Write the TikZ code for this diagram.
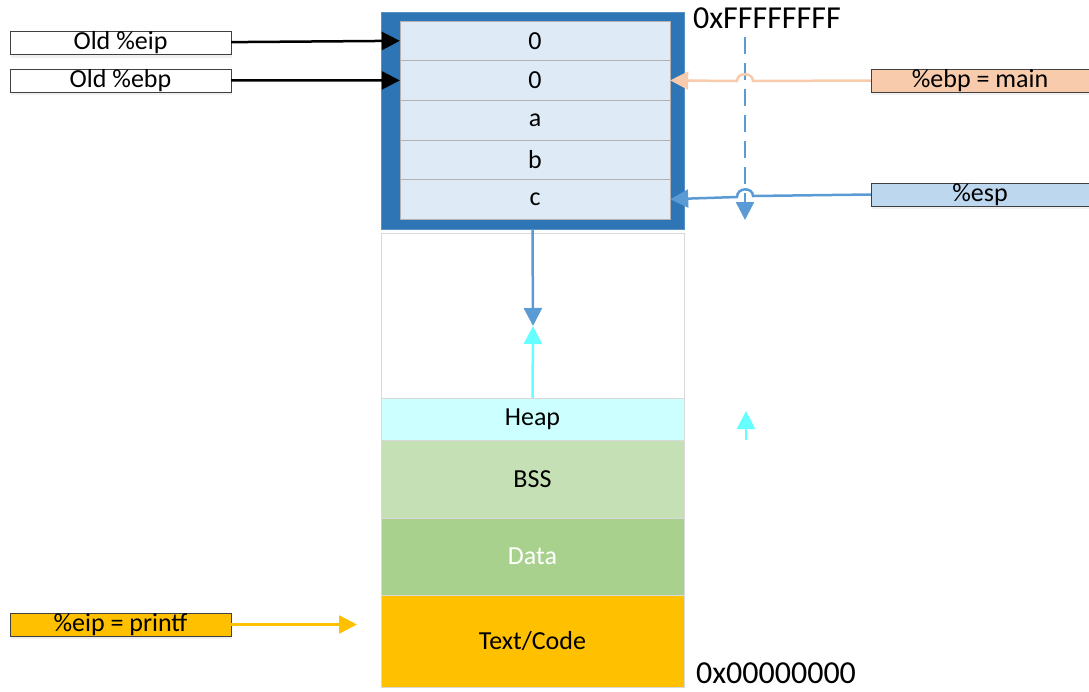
\documentclass[tikz,border=0pt]{standalone}
\usepackage{fontspec}
\setmainfont{Carlito}
\usetikzlibrary{arrows.meta,shadows}

\definecolor{stackblue}{HTML}{2E75B6}
\definecolor{cellfill}{HTML}{DEEBF7}
\definecolor{heapcyan}{HTML}{CCFFFF}
\definecolor{bssgreen}{HTML}{C5E0B4}
\definecolor{datagreen}{HTML}{A9D18E}
\definecolor{codegold}{HTML}{FFC000}
\definecolor{ebppeach}{HTML}{F8CBAD}
\definecolor{esplight}{HTML}{BDD7EE}
\definecolor{arrowblue}{HTML}{5B9BD5}
\definecolor{arrowcyan}{HTML}{66FFFF}

\tikzset{
  regbox/.style={draw=black!75, minimum width=221pt, minimum height=23pt, inner sep=0pt,
    font=\fontsize{26}{26}\selectfont,
    drop shadow={opacity=0.12, shadow xshift=1pt, shadow yshift=-3pt}},
  cell/.style={draw=black!30, fill=cellfill, minimum width=270pt, minimum height=39.6pt,
    inner sep=0pt, font=\fontsize{26}{26}\selectfont},
  segment/.style={draw=black!15, minimum width=303pt, inner sep=0pt,
    font=\fontsize{26}{26}\selectfont},
  addr/.style={inner sep=0pt, font=\fontsize{32}{32}\selectfont},
  tip/.style={-{Triangle[length=18pt,width=18pt]}},
}

\begin{document}
\begin{tikzpicture}[x=1pt,y=-1pt]
  \useasboundingbox (0,0) rectangle (1089,691);

  % stack frame and its slots
  \node[draw=stackblue!80, fill=stackblue, minimum width=303pt, minimum height=217pt, inner sep=0pt] (stack) at (532.5,120.5) {};
  \foreach \name/\txt [count=\i from 0] in {ret/0,savebp/0,va/a,vb/b,vc/c} {
      \pgfmathsetmacro\cy{40.8+\i*39.6}
      \node[cell] (\name) at (535,\cy) {\txt};
    }

  % rest of the address space
  \node[segment, fill=white, minimum height=165pt] (free) at (532.5,315.5) {};
  \node[segment, fill=heapcyan, minimum height=42pt] (heap) at (532.5,419) {Heap};
  \node[segment, fill=bssgreen, minimum height=78pt] (bss) at (532.5,479) {BSS};
  \node[segment, fill=datagreen, minimum height=77pt, text=white] (data) at (532.5,556.5) {Data};
  \node[segment, fill=codegold, minimum height=92pt] (code) at (532.5,641) {Text/Code};

  \node[addr] (top) at (767,18) {0xFFFFFFFF};
  \node[addr] (bottom) at (776,673) {0x00000000};

  % registers
  \node[regbox, fill=white] (oldeip) at (120.5,43) {Old \%eip};
  \node[regbox, fill=white] (oldebp) at (120.5,80.5) {Old \%ebp};
  \node[regbox, fill=codegold] (eip) at (120.5,624.5) {\%eip = printf};
  \node[regbox, fill=ebppeach, minimum width=218pt] (ebp) at (980,80.5) {\%ebp = main};
  \node[regbox, fill=esplight, minimum width=218pt] (esp) at (980,194.5) {\%esp};

  \coordinate (codein) at (357,624.5);
  \coordinate (meet) at (533,326);
  \coordinate (growtop) at (745,37);
  \coordinate (growbot) at (745,220);
  \coordinate (heapfrom) at (746,440);
  \coordinate (heapto) at (746,411);

  \draw[tip, line width=2.5pt] (oldeip) -- (ret.west);
  \draw[tip, line width=2.5pt] (oldebp) -- (savebp.west);
  \draw[tip, line width=2.5pt, codegold] (eip) -- (codein);

  % stack grows down
  \draw[tip, line width=2.5pt, arrowblue, dash pattern=on 17pt off 9pt] (growtop) -- (growbot);

  % pointers hop over the dashed line
  \draw[tip, line width=2.5pt, ebppeach] (ebp.west) -- (753,81)
    .. controls (753,72) and (737,72) .. (737,81) -- (savebp.east);
  \draw[tip, line width=2.5pt, arrowblue] (esp.west) -- (753,196)
    .. controls (753,187) and (737,187) .. (737,197) -- (vc.east);

  \draw[tip, line width=2.5pt, arrowblue] (stack.south) -- (meet);
  \draw[tip, line width=2.5pt, arrowcyan] (heap.north) -- (meet);
  \draw[tip, line width=2.5pt, arrowcyan] (heapfrom) -- (heapto);
\end{tikzpicture}
\end{document}
